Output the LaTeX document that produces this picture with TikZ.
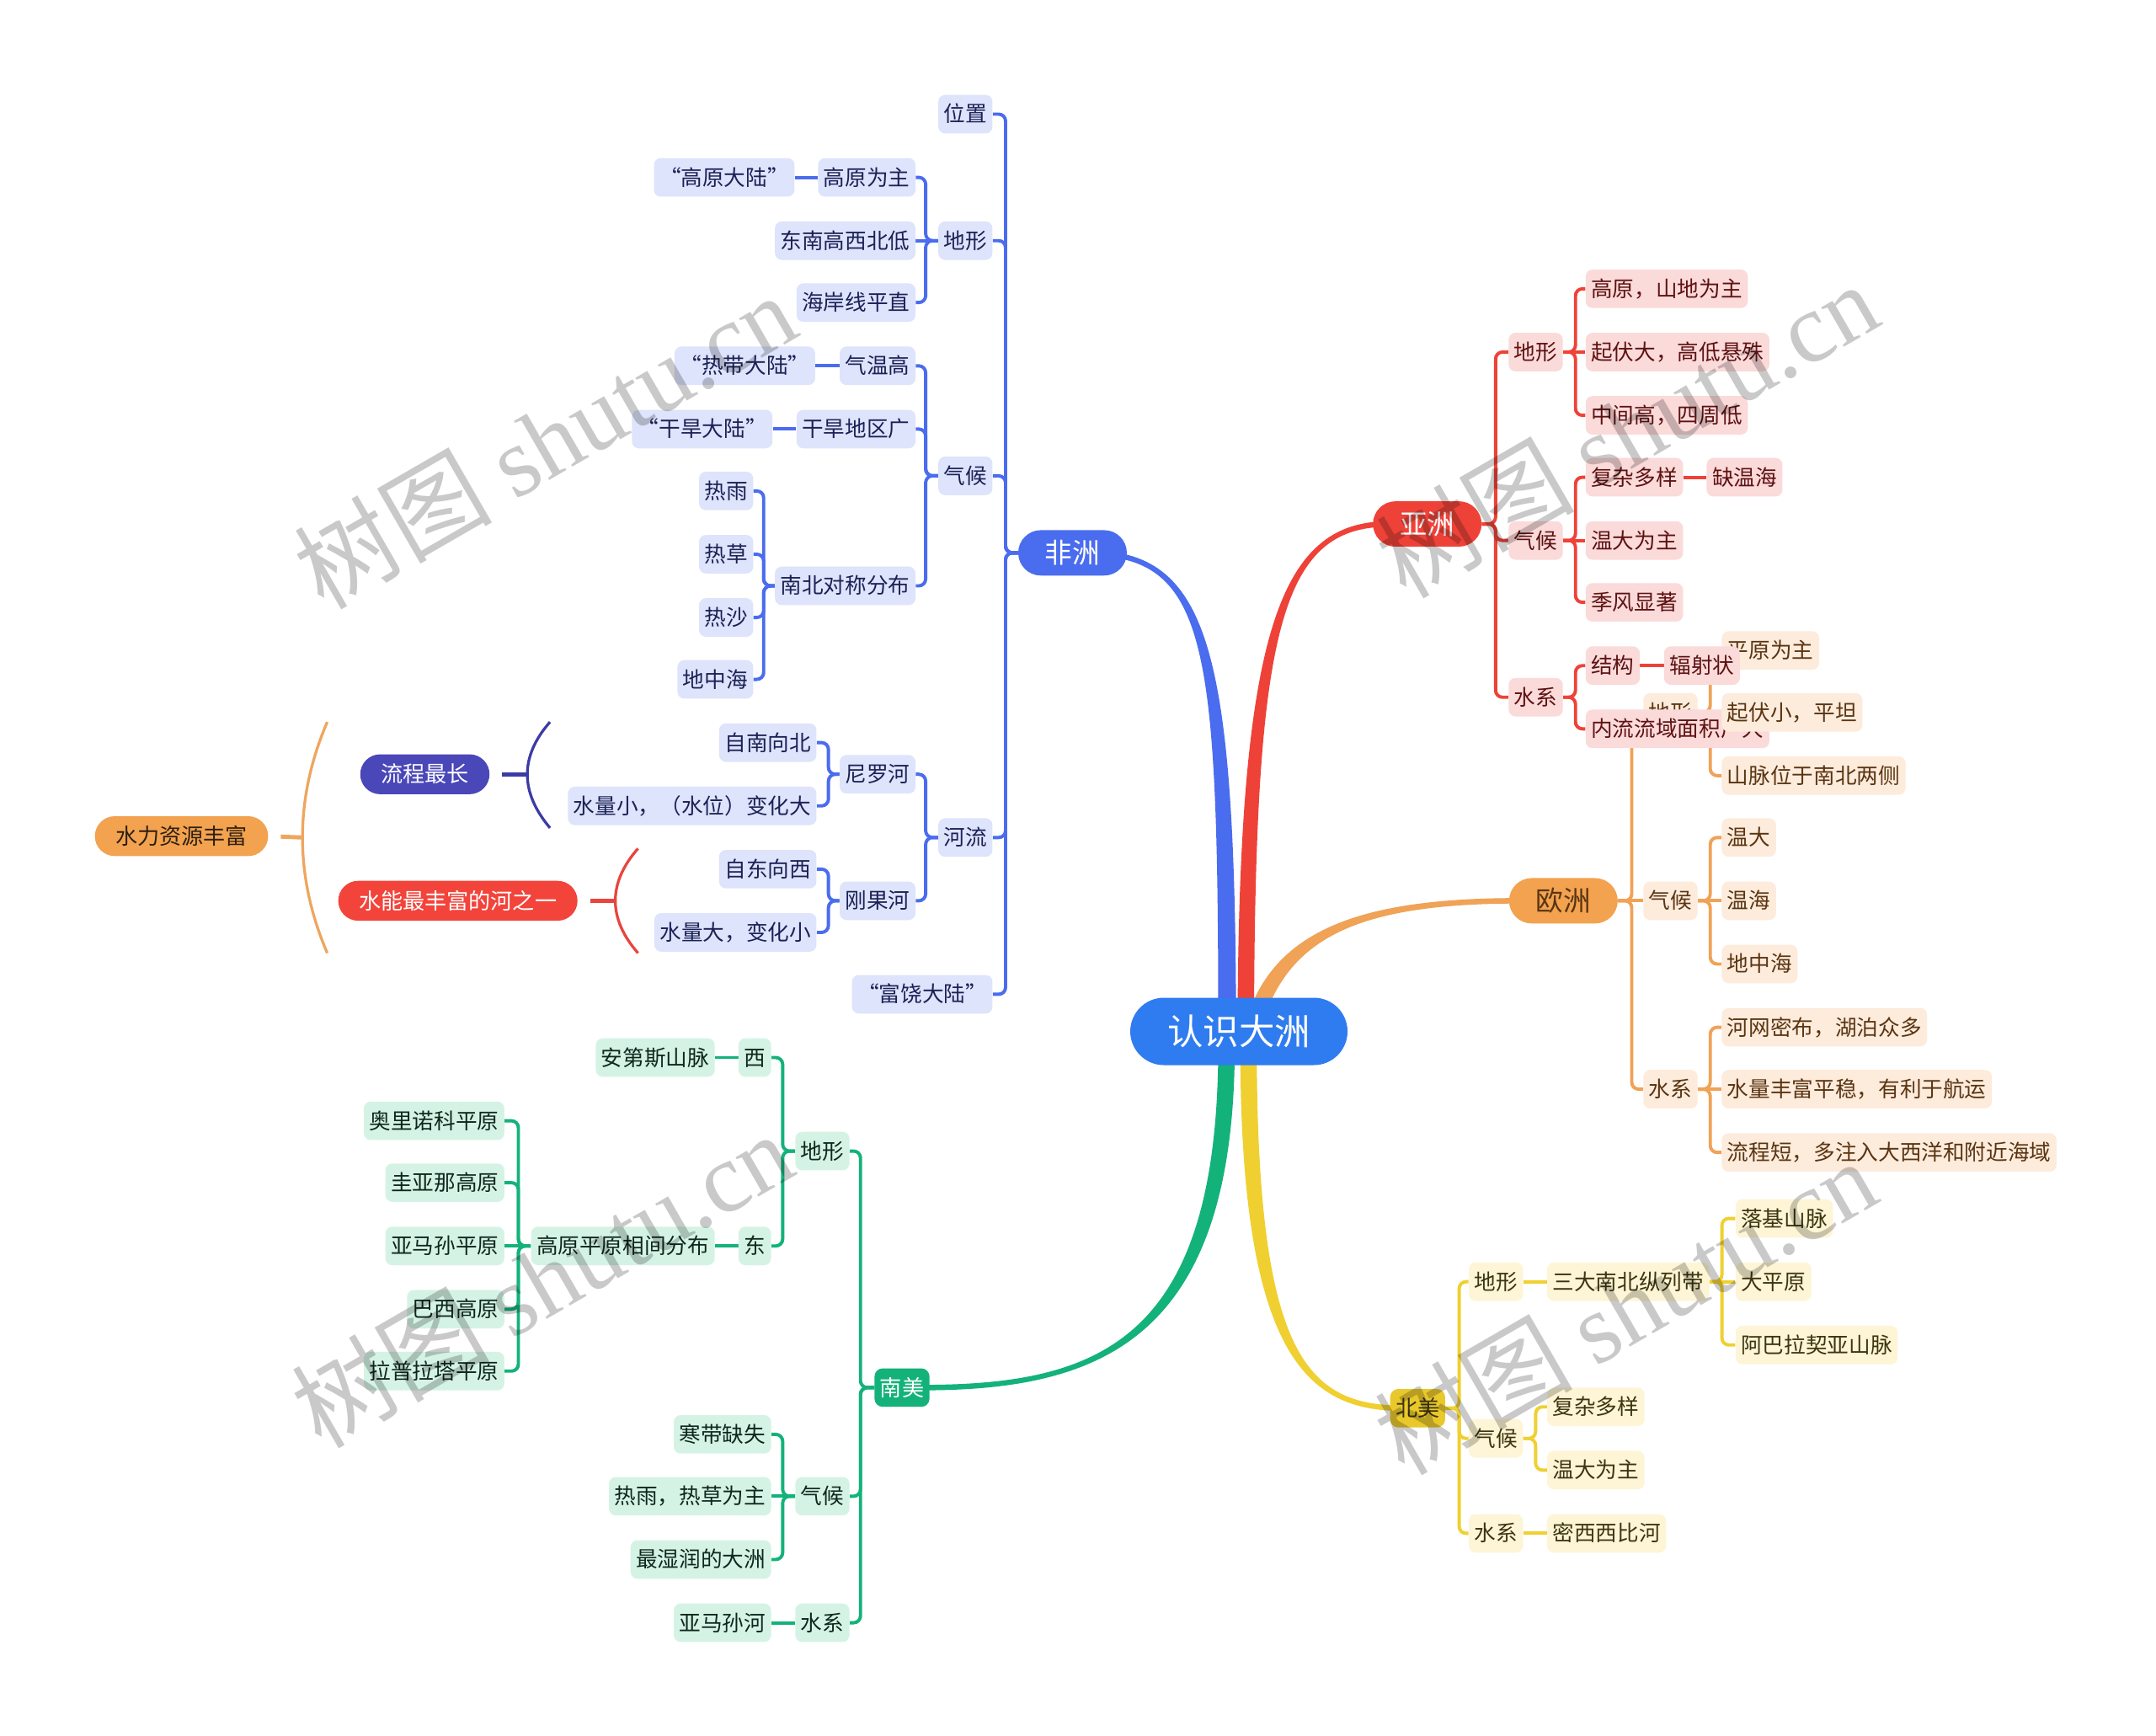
\documentclass[tikz,border=0pt]{standalone}
\usepackage{fontspec}
\setmainfont{Noto Sans CJK SC}
\newfontfamily\wmlatin{Liberation Serif}
\pgfdeclarelayer{bgzero}
\pgfdeclarelayer{bgone}
\pgfsetlayers{bgzero,bgone,main}
\definecolor{afM}{HTML}{4A6CEE}
\definecolor{afL}{HTML}{DDE4FB}
\definecolor{afT}{HTML}{1C2156}
\definecolor{asM}{HTML}{EE4238}
\definecolor{asL}{HTML}{FBDADA}
\definecolor{asT}{HTML}{5E1212}
\definecolor{euM}{HTML}{F0A256}
\definecolor{euL}{HTML}{FDEBDC}
\definecolor{euT}{HTML}{5A3512}
\definecolor{euN}{HTML}{F3A24F}
\definecolor{naM}{HTML}{EFD030}
\definecolor{naL}{HTML}{FDF5D6}
\definecolor{naT}{HTML}{3C3610}
\definecolor{naN}{HTML}{E9C82C}
\definecolor{saM}{HTML}{14B27B}
\definecolor{saL}{HTML}{D5F3E5}
\definecolor{saT}{HTML}{0F271C}
\definecolor{rootC}{HTML}{2F7CF0}
\definecolor{sumA}{HTML}{4A47B9}
\definecolor{sumB}{HTML}{F2443B}
\definecolor{sumC}{HTML}{F3A24F}
\definecolor{brA}{HTML}{3C3CA5}
\definecolor{brB}{HTML}{E8453C}
\definecolor{brC}{HTML}{EEA65E}
\tikzset{
  box/.style={rounded corners=5pt, inner xsep=4pt, inner ysep=0pt, minimum height=28pt,
    text height=13.5pt, text depth=1.9pt, font=\fontsize{15.7}{18}\selectfont},
  afn/.style={box, fill=afL, text=afT},
  asn/.style={box, fill=asL, text=asT},
  eun/.style={box, fill=euL, text=euT},
  nan/.style={box, fill=naL, text=naT},
  san/.style={box, fill=saL, text=saT},
  bigpill/.style={rounded corners=16.5pt, minimum width=79pt, minimum height=33pt, inner sep=0pt,
    text height=17.3pt, text depth=2.3pt, font=\fontsize{20}{24}\selectfont},
  smallbox/.style={rounded corners=6pt, minimum width=40pt, minimum height=28pt, inner sep=0pt,
    text height=13.8pt, text depth=1.9pt, font=\fontsize{16}{19}\selectfont},
  rootn/.style={fill=rootC, text=white, rounded corners=24.5pt, minimum width=158pt, minimum height=49pt,
    inner sep=0pt, text height=22.5pt, text depth=3pt, font=\fontsize{26}{30}\selectfont},
  sumpill/.style={rounded corners=14.5pt, minimum height=29pt, inner xsep=15pt, inner ysep=0pt,
    text height=13.8pt, text depth=1.9pt, font=\fontsize{16}{19}\selectfont},
  link/.style={line width=2.4pt, rounded corners=5pt},
  wm/.style={font=\fontsize{72}{76}\selectfont, text=black, text opacity=0.21, rotate=30, inner sep=0pt},
}
\begin{document}
\begin{tikzpicture}[x=1pt,y=-1pt]
\begin{pgfonlayer}{bgzero}
\fill[white] (0,0) rectangle (1568,1262);
\end{pgfonlayer}
\useasboundingbox (0,0) rectangle (1568,1262);

% ---------- root and continents ----------
\node[rootn] (root) at (901,750) {认识大洲};
\node[bigpill, fill=afM, text=white] (af) at (780,402) {非洲};
\node[bigpill, fill=asM, text=white] (as) at (1038,381) {亚洲};
\node[bigpill, fill=euN, text=euT] (eu) at (1137,655) {欧洲};
\node[smallbox, fill=saM, text=white] (sa) at (656,1009) {南美};
\node[smallbox, fill=naN, text=naT] (na) at (1031,1024) {北美};

% ---------- Europe (nodes lying under Asia) ----------
\node[eun, anchor=west] (euTopo) at (1195,518) {地形};
\node[eun, anchor=west] (euT1) at (1252,473) {平原为主};

% ---------- Asia ----------
\node[asn, anchor=west] (asTopo) at (1097,256) {地形};
\node[asn, anchor=west] (asClim) at (1097,393) {气候};
\node[asn, anchor=west] (asWat) at (1097,507) {水系};
\node[asn, anchor=west] (asT1) at (1153,210) {高原，山地为主};
\node[asn, anchor=west] (asT2) at (1153,256) {起伏大，高低悬殊};
\node[asn, anchor=west] (asT3) at (1153,302) {中间高，四周低};
\node[asn, anchor=west] (asC1) at (1153,347) {复杂多样};
\node[asn, anchor=west] (asC1a) at (1241,347) {缺温海};
\node[asn, anchor=west] (asC2) at (1153,393) {温大为主};
\node[asn, anchor=west] (asC3) at (1153,438) {季风显著};
\node[asn, anchor=west] (asW1) at (1153,484) {结构};
\node[asn, anchor=west] (asW1a) at (1210,484) {辐射状};
\node[asn, anchor=west] (asW2) at (1153,530) {内流流域面积广大};

% ---------- Europe ----------
\node[eun, anchor=west] (euT2) at (1252,518) {起伏小，平坦};
\node[eun, anchor=west] (euT3) at (1252,564) {山脉位于南北两侧};
\node[eun, anchor=west] (euClim) at (1195,655) {气候};
\node[eun, anchor=west] (euC1) at (1252,609) {温大};
\node[eun, anchor=west] (euC2) at (1252,655) {温海};
\node[eun, anchor=west] (euC3) at (1252,701) {地中海};
\node[eun, anchor=west] (euWat) at (1195,792) {水系};
\node[eun, anchor=west] (euW1) at (1252,747) {河网密布，湖泊众多};
\node[eun, anchor=west] (euW2) at (1252,792) {水量丰富平稳，有利于航运};
\node[eun, anchor=west] (euW3) at (1252,838) {流程短，多注入大西洋和附近海域};

% ---------- North America ----------
\node[nan, anchor=west] (naTopo) at (1068,932) {地形};
\node[nan, anchor=west] (naT1) at (1125,932) {三大南北纵列带};
\node[nan, anchor=west] (naT1a) at (1262,886) {落基山脉};
\node[nan, anchor=west] (naT1b) at (1262,932) {大平原};
\node[nan, anchor=west] (naT1c) at (1262,978) {阿巴拉契亚山脉};
\node[nan, anchor=west] (naClim) at (1068,1046) {气候};
\node[nan, anchor=west] (naC1) at (1125,1023) {复杂多样};
\node[nan, anchor=west] (naC2) at (1125,1069) {温大为主};
\node[nan, anchor=west] (naWat) at (1068,1115) {水系};
\node[nan, anchor=west] (naW1) at (1125,1115) {密西西比河};

% ---------- South America ----------
\node[san, anchor=east] (saTopo) at (618,837) {地形};
\node[san, anchor=east] (saW) at (561,769) {西};
\node[san, anchor=east] (saWa) at (520,769) {安第斯山脉};
\node[san, anchor=east] (saE) at (561,906) {东};
\node[san, anchor=east] (saEa) at (520,906) {高原平原相间分布};
\node[san, anchor=east] (saE1) at (367,815) {奥里诺科平原};
\node[san, anchor=east] (saE2) at (367,860) {圭亚那高原};
\node[san, anchor=east] (saE3) at (367,906) {亚马孙平原};
\node[san, anchor=east] (saE4) at (367,952) {巴西高原};
\node[san, anchor=east] (saE5) at (367,997) {拉普拉塔平原};
\node[san, anchor=east] (saClim) at (618,1088) {气候};
\node[san, anchor=east] (saC1) at (561,1043) {寒带缺失};
\node[san, anchor=east] (saC2) at (561,1088) {热雨，热草为主};
\node[san, anchor=east] (saC3) at (561,1134) {最湿润的大洲};
\node[san, anchor=east] (saWat) at (618,1180) {水系};
\node[san, anchor=east] (saR) at (561,1180) {亚马孙河};

% ---------- Africa ----------
\node[afn, anchor=east] (afPos) at (722,83) {位置};
\node[afn, anchor=east] (afTopo) at (722,175) {地形};
\node[afn, anchor=east] (afClim) at (722,346) {气候};
\node[afn, anchor=east] (afRiv) at (722,609) {河流};
\node[afn, anchor=east] (afRich) at (722,723) {“富饶大陆”};
\node[afn, anchor=east] (afT1) at (666,129) {高原为主};
\node[afn, anchor=east] (afT1a) at (578,129) {“高原大陆”};
\node[afn, anchor=east] (afT2) at (666,175) {东南高西北低};
\node[afn, anchor=east] (afT3) at (666,220) {海岸线平直};
\node[afn, anchor=east] (afC1) at (666,266) {气温高};
\node[afn, anchor=east] (afC1a) at (593,266) {“热带大陆”};
\node[afn, anchor=east] (afC2) at (666,312) {干旱地区广};
\node[afn, anchor=east] (afC2a) at (562,312) {“干旱大陆”};
\node[afn, anchor=east] (afC3) at (666,426) {南北对称分布};
\node[afn, anchor=east] (afC3a) at (548,357) {热雨};
\node[afn, anchor=east] (afC3b) at (548,403) {热草};
\node[afn, anchor=east] (afC3c) at (548,449) {热沙};
\node[afn, anchor=east] (afC3d) at (548,494) {地中海};
\node[afn, anchor=east] (afR1) at (666,563) {尼罗河};
\node[afn, anchor=east] (afR1a) at (594,540) {自南向北};
\node[afn, anchor=east] (afR1b) at (594,586) {水量小，（水位）变化大};
\node[afn, anchor=east] (afR2) at (666,655) {刚果河};
\node[afn, anchor=east] (afR2a) at (594,632) {自东向西};
\node[afn, anchor=east] (afR2b) at (594,678) {水量大，变化小};

% ---------- summary pills ----------
\node[sumpill, fill=sumA, text=white] (sumA) at (309,563) {流程最长};
\node[sumpill, fill=sumB, text=white] (sumB) at (333,655) {水能最丰富的河之一};
\node[sumpill, fill=sumC, text={rgb,255:red,46;green,32;blue,16}] (sumC) at (132,608) {水力资源丰富};
\coordinate (bA) at (383.5,563);
\coordinate (bB) at (447.5,655);
\coordinate (bC) at (220,609);

% ---------- connectors ----------
\begin{pgfonlayer}{bgone}
% main tapered branches
\fill[afM] (886,760) .. controls (886,470) and (880,404) .. (790,404) -- (790,400) .. controls (880,400) and (899,470) .. (899,760) -- cycle;
\fill[asM] (900,760) .. controls (900,460) and (930,379) .. (1010,379) -- (1010,383) .. controls (930,383) and (912,460) .. (912,760) -- cycle;
\fill[euM] (902,760) .. controls (916,680) and (980,653) .. (1105,653) -- (1105,657) .. controls (980,657) and (930,685) .. (914,760) -- cycle;
\fill[saM] (898,760) .. controls (898,975) and (800,1011) .. (670,1011) -- (670,1007) .. controls (800,1007) and (886,975) .. (886,760) -- cycle;
\fill[naM] (914,760) .. controls (914,985) and (950,1022) .. (1020,1022) -- (1020,1026) .. controls (950,1026) and (902,985) .. (902,760) -- cycle;

% Africa
\foreach \c in {afPos,afTopo,afClim,afRiv,afRich} \draw[link,afM] (af.west) -- ++(-9,0) |- (\c.east);
\foreach \c in {afT1,afT3} \draw[link,afM] (afTopo.west) -- ++(-9,0) |- (\c.east);
\draw[link,afM] (afTopo.west) -- (afT2.east);
\draw[link,afM] (afT1.west) -- (afT1a.east);
\foreach \c in {afC1,afC2,afC3} \draw[link,afM] (afClim.west) -- ++(-9,0) |- (\c.east);
\draw[link,afM] (afC1.west) -- (afC1a.east);
\draw[link,afM] (afC2.west) -- (afC2a.east);
\foreach \c in {afC3a,afC3b,afC3c,afC3d} \draw[link,afM] (afC3.west) -- ++(-8,0) |- (\c.east);
\foreach \c in {afR1,afR2} \draw[link,afM] (afRiv.west) -- ++(-9,0) |- (\c.east);
\foreach \c in {afR1a,afR1b} \draw[link,afM] (afR1.west) -- ++(-8,0) |- (\c.east);
\foreach \c in {afR2a,afR2b} \draw[link,afM] (afR2.west) -- ++(-8,0) |- (\c.east);

% Asia
\foreach \c in {asTopo,asClim,asWat} \draw[link,asM] (as.east) -- ++(10,0) |- (\c.west);
\foreach \c in {asT1,asT3} \draw[link,asM] (asTopo.east) -- ++(9,0) |- (\c.west);
\draw[link,asM] (asTopo.east) -- (asT2.west);
\foreach \c in {asC1,asC3} \draw[link,asM] (asClim.east) -- ++(9,0) |- (\c.west);
\draw[link,asM] (asClim.east) -- (asC2.west);
\draw[link,asM] (asC1.east) -- (asC1a.west);
\foreach \c in {asW1,asW2} \draw[link,asM] (asWat.east) -- ++(9,0) |- (\c.west);
\draw[link,asM] (asW1.east) -- (asW1a.west);

% Europe
\foreach \c in {euTopo,euWat} \draw[link,euM] (eu.east) -- ++(10,0) |- (\c.west);
\draw[link,euM] (eu.east) -- (euClim.west);
\foreach \c in {euT1,euT3} \draw[link,euM] (euTopo.east) -- ++(9,0) |- (\c.west);
\draw[link,euM] (euTopo.east) -- (euT2.west);
\foreach \c in {euC1,euC3} \draw[link,euM] (euClim.east) -- ++(9,0) |- (\c.west);
\draw[link,euM] (euClim.east) -- (euC2.west);
\foreach \c in {euW1,euW3} \draw[link,euM] (euWat.east) -- ++(9,0) |- (\c.west);
\draw[link,euM] (euWat.east) -- (euW2.west);

% North America
\foreach \c in {naTopo,naClim,naWat} \draw[link,naM] (na.east) -- ++(10,0) |- (\c.west);
\draw[link,naM] (naTopo.east) -- (naT1.west);
\foreach \c in {naT1a,naT1c} \draw[link,naM] (naT1.east) -- ++(9,0) |- (\c.west);
\draw[link,naM] (naT1.east) -- (naT1b.west);
\foreach \c in {naC1,naC2} \draw[link,naM] (naClim.east) -- ++(9,0) |- (\c.west);
\draw[link,naM] (naWat.east) -- (naW1.west);

% South America
\foreach \c in {saTopo,saClim,saWat} \draw[link,saM] (sa.west) -- ++(-10,0) |- (\c.east);
\foreach \c in {saW,saE} \draw[link,saM] (saTopo.west) -- ++(-9,0) |- (\c.east);
\draw[link,saM] (saW.west) -- (saWa.east);
\draw[link,saM] (saE.west) -- (saEa.east);
\foreach \c in {saE1,saE2,saE4,saE5} \draw[link,saM] (saEa.west) -- ++(-9,0) |- (\c.east);
\draw[link,saM] (saEa.west) -- (saE3.east);
\foreach \c in {saC1,saC3} \draw[link,saM] (saClim.west) -- ++(-9,0) |- (\c.east);
\draw[link,saM] (saClim.west) -- (saC2.east);
\draw[link,saM] (saWat.west) -- (saR.east);

% summary brackets
\draw[line width=2pt, brA] (400,525) .. controls (378,550) and (378,576) .. (400,602);
\draw[line width=3pt, brA, shorten <=9pt] (sumA.east) -- (bA);
\draw[line width=2pt, brB] (464,617) .. controls (442,642) and (442,668) .. (464,693);
\draw[line width=3pt, brB, shorten <=9pt] (sumB.east) -- (bB);
\draw[line width=2pt, brC] (238,525) .. controls (214,581) and (214,637) .. (238,693);
\draw[line width=3pt, brC, shorten <=9pt] (sumC.east) -- (bC);
\end{pgfonlayer}

% ---------- watermarks ----------
\node[wm] (wm1) at (396,320) {树图 {\wmlatin shutu.cn}};
\node[wm] (wm2) at (1183,312) {树图 {\wmlatin shutu.cn}};
\node[wm] (wm3) at (394,930) {树图 {\wmlatin shutu.cn}};
\node[wm] (wm4) at (1182,950) {树图 {\wmlatin shutu.cn}};
\end{tikzpicture}
\end{document}
